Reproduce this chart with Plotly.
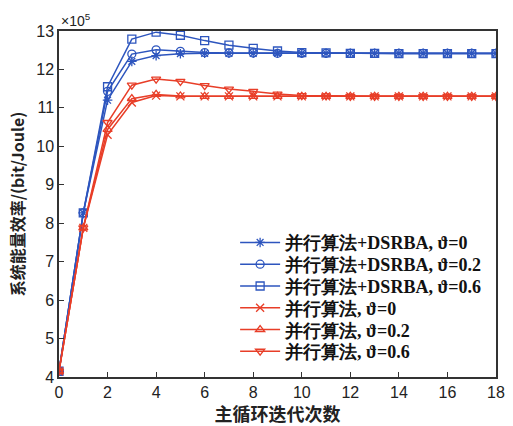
import plotly.graph_objects as go

iters = list(range(0, 19))

blue_t0 = [4.15, 8.27, 11.20, 12.21, 12.36, 12.41, 12.42, 12.42, 12.42, 12.42, 12.42, 12.42, 12.42, 12.42, 12.42, 12.42, 12.42, 12.42, 12.42]
blue_t02 = [4.15, 8.27, 11.43, 12.40, 12.51, 12.47, 12.44, 12.43, 12.43, 12.42, 12.42, 12.42, 12.42, 12.42, 12.42, 12.42, 12.42, 12.42, 12.42]
blue_t06 = [4.15, 8.27, 11.55, 12.79, 12.97, 12.89, 12.75, 12.63, 12.55, 12.48, 12.44, 12.43, 12.42, 12.42, 12.41, 12.41, 12.41, 12.41, 12.41]
red_t0 = [4.15, 7.88, 10.30, 11.14, 11.32, 11.30, 11.30, 11.30, 11.30, 11.30, 11.30, 11.30, 11.30, 11.30, 11.30, 11.30, 11.30, 11.30, 11.30]
red_t02 = [4.15, 7.88, 10.44, 11.24, 11.35, 11.31, 11.30, 11.30, 11.30, 11.30, 11.30, 11.30, 11.30, 11.30, 11.30, 11.30, 11.30, 11.30, 11.30]
red_t06 = [4.15, 7.88, 10.62, 11.59, 11.75, 11.69, 11.58, 11.49, 11.43, 11.36, 11.32, 11.31, 11.30, 11.30, 11.30, 11.30, 11.30, 11.30, 11.30]

names = ["并行算法+DSRBA, ϑ=0", "并行算法+DSRBA, ϑ=0.2", "并行算法+DSRBA, ϑ=0.6",
         "并行算法, ϑ=0", "并行算法, ϑ=0.2", "并行算法, ϑ=0.6"]
series = [blue_t0, blue_t02, blue_t06, red_t0, red_t02, red_t06]
symbols = ["asterisk-open", "circle-open", "square-open", "x-thin-open", "triangle-up-open", "triangle-down-open"]
BLUE = "rgb(45,85,190)"
RED = "rgb(232,62,40)"
colors = [BLUE, BLUE, BLUE, RED, RED, RED]

legend_ids = ["legend", "legend2", "legend3", "legend4", "legend5", "legend6"]

fig = go.Figure()
for n, s, sym, c, lg in zip(names, series, symbols, colors, legend_ids):
    fig.add_trace(go.Scatter(
        x=iters, y=s, name=n, mode="lines+markers",
        line=dict(color=c, width=1.5),
        marker=dict(symbol=sym, size=8, color=c, line=dict(color=c, width=1.3)),
        legend=lg,
    ))

legend_font = dict(family="Liberation Serif", size=18, color="#111", weight="bold")
legend_layouts = {}
row_top = 0.388
row_step = 0.0629
for i, lg in enumerate(legend_ids):
    legend_layouts[lg] = dict(
        x=0.403, y=row_top - i * row_step, xanchor="left", yanchor="middle",
        bgcolor="rgba(255,255,255,0)", borderwidth=0,
        font=legend_font, itemwidth=40,
    )

axis_font = dict(family="Liberation Sans, Arial", size=16, color="#222")
fig.update_layout(
    width=513, height=426,
    margin=dict(l=59, r=8, t=31, b=47),
    paper_bgcolor="white", plot_bgcolor="white",
    showlegend=True,
    xaxis=dict(
        range=[0, 18], tickvals=list(range(0, 19, 2)),
        showline=True, linecolor="#333", linewidth=1.5, mirror=True,
        ticks="inside", ticklen=5, tickcolor="#333", tickwidth=1.2,
        showgrid=False, zeroline=False, tickfont=axis_font,
        title=dict(text="<b>主循环迭代次数</b>", font=dict(family="Noto Sans CJK SC", size=18, color="#222"), standoff=4),
    ),
    yaxis=dict(
        range=[4, 13], tickvals=list(range(4, 14)),
        showline=True, linecolor="#333", linewidth=1.5, mirror=True,
        ticks="inside", ticklen=5, tickcolor="#333", tickwidth=1.2,
        showgrid=False, zeroline=False, tickfont=axis_font,
        title=dict(text="<b>系统能量效率/(bit/Joule)</b>", font=dict(family="Noto Sans CJK SC, Liberation Sans", size=16, color="#222"), standoff=8),
    ),
    annotations=[dict(
        text="×10<sup>5</sup>", xref="paper", yref="paper", x=0.0, y=1.0,
        xanchor="left", yanchor="bottom", showarrow=False,
        font=dict(family="Liberation Sans, Arial", size=14, color="#222"),
    )],
    **legend_layouts,
)

fig.write_html("out.html")
